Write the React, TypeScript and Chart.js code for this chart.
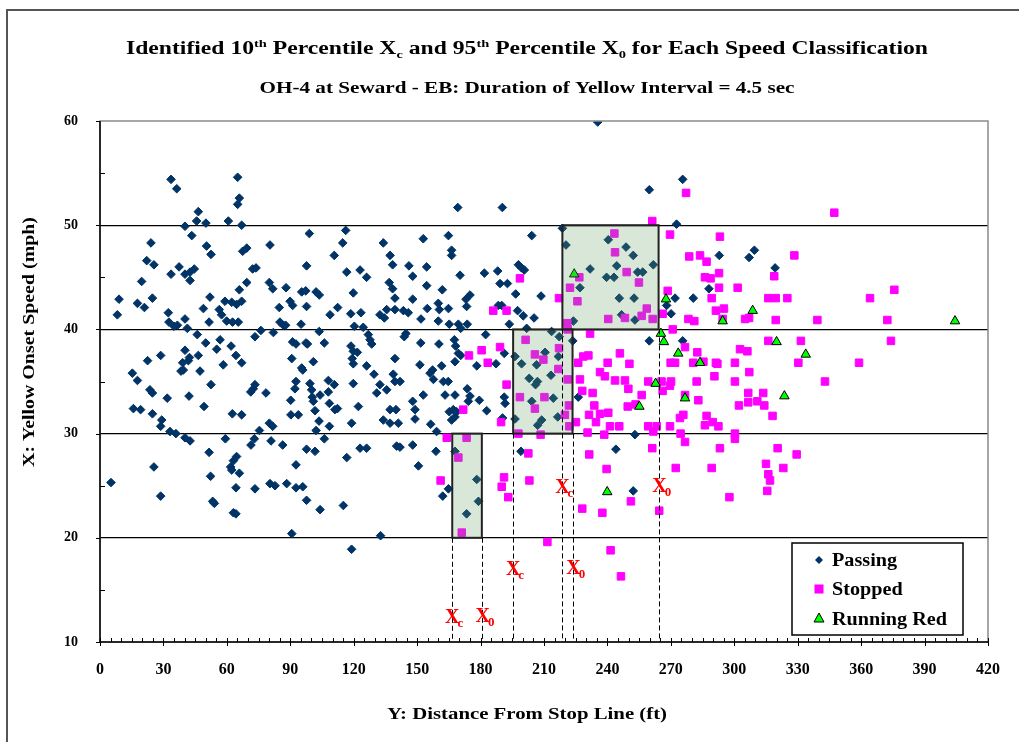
import React, { useEffect, useRef } from 'react';
import { Chart, registerables } from 'chart.js';

Chart.register(...registerables);

const FONT = "'Liberation Serif', 'Times New Roman', serif";

// ---------- data ----------
const xTickValues = [0, 30, 60, 90, 120, 150, 180, 210, 240, 270, 300, 330, 360, 390, 420];
const yTickValues = [10, 20, 30, 40, 50, 60];
const speedGridLines = [20, 30, 40, 50];

const passing: number[][] = [
  [33.6,54.4],[36.3,53.5],[65.1,54.6],[65.9,52.6],[65.1,52.0],[46.5,51.3],[45.7,50.4],[40.2,49.9],[50.1,50.2],[60.7,50.4],[67.0,50.0],[99.0,49.2],[116.2,49.5],[24.1,48.3],[43.4,49.0],[80.4,48.1],[114.8,48.3],[134.0,48.3],[50.4,48.0],[52.5,47.2],[67.5,47.5],[69.4,47.8],[110.8,47.1],[137.2,47.1],[22.1,46.6],[25.5,46.2],[37.4,46.0],[33.6,45.3],[40.2,45.3],[42.6,45.5],[44.6,45.8],[42.6,44.7],[97.7,46.1],[72.2,45.8],[73.8,45.9],[116.7,45.5],[123.0,45.7],[138.4,46.2],[126.1,45.0],[19.7,44.6],[69.4,44.5],[80.1,44.5],[81.7,43.9],[88.0,44.0],[95.4,43.6],[97.3,43.7],[102.2,43.6],[103.7,43.3],[119.8,43.5],[136.8,44.5],[138.4,43.9],[139.5,43.0],[9.0,42.9],[17.7,42.5],[21.0,42.1],[24.8,43.0],[52.0,43.1],[59.1,42.7],[62.3,42.6],[64.6,42.4],[67.0,42.7],[65.9,43.8],[48.9,42.0],[56.4,41.9],[57.5,41.4],[89.9,42.7],[91.1,42.3],[84.8,42.1],[97.7,42.2],[112.4,42.1],[108.8,41.4],[118.6,41.5],[123.4,41.6],[132.4,41.4],[134.5,41.1],[135.6,41.9],[139.5,41.9],[8.2,41.4],[32.3,41.6],[32.6,40.7],[36.6,40.4],[40.2,41.0],[35.0,40.3],[41.3,40.1],[51.6,40.7],[59.9,40.8],[62.7,40.7],[65.4,40.7],[85.1,40.7],[86.7,40.4],[87.8,40.4],[95.1,40.5],[120.3,40.3],[124.5,40.2],[126.9,39.5],[103.7,39.8],[76.1,39.9],[73.3,39.3],[82.0,39.7],[46.0,39.5],[50.0,38.7],[56.8,39.0],[55.2,38.1],[62.0,38.4],[91.1,38.8],[92.7,38.6],[97.4,38.7],[98.1,38.6],[106.1,38.7],[118.7,38.4],[119.8,37.9],[121.7,37.8],[127.7,39.0],[128.5,38.6],[40.2,38.0],[46.5,37.5],[64.3,37.5],[28.7,37.5],[22.5,37.0],[39.1,36.8],[41.8,37.0],[42.3,37.3],[39.4,36.1],[38.3,36.0],[47.3,36.0],[58.3,36.6],[67.0,36.8],[90.7,37.2],[100.9,36.9],[95.4,36.3],[95.9,36.1],[119.3,37.2],[119.8,36.7],[126.1,36.5],[129.6,35.7],[139.5,37.2],[138.7,35.7],[15.3,35.8],[17.7,35.1],[52.5,34.7],[73.3,34.7],[92.7,35.0],[99.3,34.8],[108.0,35.1],[110.8,34.7],[119.8,34.8],[132.4,34.7],[139.5,35.0],
  [23.6,34.2],[24.8,33.9],[31.8,33.4],[42.1,33.6],[71.3,34.0],[72.5,34.3],[78.5,33.9],[90.2,33.2],[92.2,34.3],[100.1,34.2],[100.4,33.5],[100.9,33.1],[104.1,33.7],[108.0,34.0],[108.5,32.9],[111.1,32.3],[112.3,32.4],[101.7,32.2],[103.6,31.2],[102.2,30.3],[108.5,30.7],[122.2,32.6],[130.9,33.9],[135.6,34.2],[137.2,32.3],[140.0,32.3],[15.8,32.4],[19.2,32.3],[24.8,31.9],[29.2,31.3],[28.7,30.7],[33.1,30.2],[35.9,30.0],[40.2,29.6],[42.6,29.3],[49.2,32.6],[62.6,31.9],[67.0,31.8],[75.4,30.3],[80.1,31.0],[81.7,30.7],[90.3,31.8],[93.8,31.8],[119.0,31.0],[134.0,31.3],[137.2,31.0],[141.1,31.0],[59.3,29.5],[71.4,28.9],[73.0,29.5],[80.9,29.3],[86.4,28.9],[106.1,29.5],[97.7,28.5],[101.7,28.3],[51.6,28.2],[116.7,27.7],[123.0,28.6],[126.1,28.6],[140.3,28.8],[25.5,26.8],[5.2,25.3],[28.7,24.0],[52.3,25.9],[54.1,23.3],[53.3,23.5],[61.8,26.8],[62.3,26.5],[63.1,27.4],[64.6,27.8],[65.9,26.2],[64.3,24.8],[63.1,22.4],[64.3,22.3],[73.3,24.7],[80.4,25.2],[82.8,25.0],[88.3,25.2],[92.7,27.0],[92.7,24.8],[95.9,24.9],[97.7,23.6],[104.1,22.7],[115.1,23.1],[90.7,20.4],[132.7,20.2],[119.0,18.9],
  [235.4,59.9],[275.6,54.4],[259.8,53.4],[169.2,51.7],[190.3,51.7],[272.7,50.1],[218.7,49.7],[220.4,48.1],[204.2,49.0],[164.8,49.0],[152.9,48.7],[166.3,47.6],[166.3,47.1],[146.1,46.1],[154.5,46.0],[147.9,45.1],[154.5,44.2],[161.9,43.8],[170.3,45.2],[181.8,45.4],[188.1,45.6],[197.9,46.2],[199.4,45.9],[200.7,45.7],[189.2,44.4],[192.7,44.4],[196.6,43.4],[208.6,43.2],[147.9,42.9],[143.5,41.8],[145.8,41.6],[154.8,42.0],[160.0,42.5],[160.5,41.9],[164.8,42.0],[173.1,42.9],[175.0,43.3],[173.4,42.2],[188.4,42.3],[190.0,42.3],[197.5,41.8],[200.2,41.3],[205.3,41.1],[151.8,41.0],[160.0,40.8],[165.2,40.5],[169.5,40.5],[170.6,40.1],[173.7,40.5],[193.6,40.5],[144.7,39.6],[143.9,39.3],[151.7,38.7],[160.3,38.6],[167.6,39.0],[168.2,38.4],[169.5,37.7],[170.6,37.5],[167.9,36.9],[151.3,36.6],[157.3,36.1],[156.1,35.8],[161.6,36.5],[178.2,36.5],[187.3,36.7],[191.2,37.7],[182.4,39.5],[201.8,40.1],[213.6,39.8],[217.2,39.3],[223.6,38.9],[164.7,35.0],[162.4,35.0],[141.9,35.0],[157.7,35.2],
  [240.4,48.6],[248.8,47.9],[252.2,47.1],[231.8,45.8],[244.4,46.1],[254.3,45.5],[256.7,45.5],[261.7,46.2],[239.6,45.0],[243.1,45.0],[227.0,44.0],[245.6,43.0],[252.6,43.0],[246.7,41.4],[223.9,40.8],[253.0,40.9],[268.0,42.3],[272.0,43.0],[270.1,41.5],[259.8,38.9],[275.6,38.9],
  [210.5,37.8],[196.3,37.4],[199.4,36.7],[206.5,36.6],[213.3,35.6],[203.0,35.3],[206.9,35.0],[216.8,37.4],
  [147.9,33.1],[149.0,32.3],[149.0,31.4],[152.9,33.7],[156.4,30.9],[163.2,33.7],[165.2,32.1],[167.1,32.3],[167.9,31.6],[166.3,31.3],[168.7,32.1],[159.2,30.2],[175.0,33.6],[174.2,33.1],[179.4,33.2],[182.9,32.2],[191.2,33.5],[191.6,32.9],[190.4,31.5],[141.9,28.7],[147.9,28.9],[158.9,28.3],[150.6,26.9],[164.8,24.7],[162.1,24.0],[167.9,28.3],[178.2,25.6],[179.0,23.5],[173.4,22.3],[199.1,28.3],[253.0,29.9],[244.0,28.5],[252.2,24.5],[206.0,34.7],[204.2,33.1],[208.9,31.3],[207.0,30.8],[214.4,33.4],[216.5,31.6],[226.2,33.5],[173.7,34.3],[167.9,33.7],[196.3,31.4],
  [292.9,47.1],[307.0,46.9],[309.5,47.6],[319.3,45.9],[288.0,43.9],[280.6,43.0],
];

const stopped: number[][] = [
  [277.2,53.1],[261.2,50.4],[269.6,49.1],[278.7,47.0],[198.6,44.9],[217.1,43.0],[186.0,41.8],[192.3,41.8],[243.3,49.2],[243.6,47.4],[249.1,45.5],[226.7,45.0],[222.3,44.0],[225.8,42.7],[254.9,44.5],[258.6,42.0],[256.2,41.3],[261.4,41.0],[248.3,41.1],[240.4,41.0],[221.0,40.6],[221.2,40.0],[268.5,43.7],[266.1,41.5],[278.3,41.0],[270.9,40.0],[231.8,39.6],[189.2,38.3],[174.5,37.5],[180.5,38.0],[183.4,36.8],[201.3,39.0],[205.7,37.6],[209.7,37.1],[217.1,38.2],[216.8,36.2],[192.3,34.7],[276.7,38.3],[245.9,37.7],[231.0,37.5],[228.6,37.4],[240.1,36.8],[250.4,36.7],[226.2,36.8],[269.9,36.8],[272.0,36.8],[236.5,35.9],[238.8,35.5],[221.2,35.2],[227.0,35.2],[243.6,35.1],[248.3,35.1],[259.3,35.0],[265.6,35.0],[270.1,35.0],
  [198.6,33.5],[210.2,33.5],[205.7,32.4],[189.7,31.1],[197.9,30.0],[208.4,29.9],[219.9,31.8],[221.8,32.7],[222.0,30.7],[225.1,31.1],[171.8,32.3],[164.0,29.6],[173.4,29.6],[169.5,27.7],[171.1,20.5],[161.1,25.5],[191.1,25.8],[190.0,24.9],[193.1,23.9],[203.1,25.5],[202.6,28.1],[211.6,19.6],[228.1,34.1],[233.0,33.9],[233.8,32.7],[231.3,31.8],[236.5,31.9],[240.4,32.0],[234.6,31.1],[241.2,30.7],[245.6,30.7],[238.5,29.9],[230.6,30.1],[231.4,28.0],[239.6,26.6],[228.1,22.8],[237.6,22.4],[241.5,18.8],[246.4,16.3],[251.1,23.5],[256.2,33.7],[249.6,32.6],[253.3,32.8],[261.2,28.6],[259.3,30.7],[263.3,30.7],[261.7,30.2],[269.6,30.7],[264.5,22.6],[272.3,26.7],[274.6,30.0],[276.7,29.2],[274.3,31.5],[275.9,31.8],[249.9,34.3],[269.6,34.6],[266.1,34.1],[276.7,33.7],
  [347.3,51.2],[293.2,48.9],[283.8,47.1],[286.9,46.5],[328.4,47.1],[286.1,45.0],[288.8,44.9],[292.8,45.4],[292.8,44.0],[301.6,44.0],[318.9,45.1],[289.3,43.0],[316.1,43.0],[319.6,43.0],[325.1,43.0],[364.2,43.0],[375.7,43.8],[291.3,41.8],[295.1,42.0],[281.1,40.8],[294.5,41.0],[305.1,41.0],[307.0,41.1],[319.6,40.9],[339.3,40.9],[372.4,40.9],[316.1,38.9],[331.5,38.9],[374.1,38.9],[282.5,37.8],[302.7,38.1],[306.2,37.9],[280.6,36.8],[285.4,36.9],[291.3,36.8],[292.0,36.7],[300.3,36.8],[307.1,35.9],[290.6,35.5],[330.3,36.8],[359.0,36.8],[282.2,35.0],[300.3,35.0],[342.9,35.0],
  [283.0,33.2],[306.6,33.9],[313.7,33.9],[306.6,33.0],[310.9,33.1],[314.2,32.7],[302.2,32.7],[318.1,31.7],[286.9,31.7],[289.8,31.1],[286.1,30.8],[292.5,30.7],[300.3,30.0],[300.3,29.5],[293.2,28.6],[320.5,28.6],[329.5,28.0],[315.0,27.1],[323.2,26.7],[289.3,26.7],[316.1,26.1],[316.9,25.5],[315.6,24.5],[297.7,23.9],
];

const runningRed: number[][] = [
  [224.3,45.3],[267.7,42.9],[265.3,39.6],[266.7,38.8],[273.5,37.7],[262.8,34.8],[255.1,32.6],[239.9,24.4],[276.7,33.4],[294.5,40.8],[308.7,41.8],[404.4,40.8],[320.0,38.8],[333.8,37.6],[283.8,36.8],[323.7,33.6],
];

// identified percentile distances per speed class
const speedClassLow = [20, 30, 40];
const speedClassHigh = [30, 40, 50];
const xc10th = [166.6, 195.4, 218.7];
const x095th = [180.6, 223.5, 264.2];
const labelSpeed = [11.8, 16.4, 24.3];

const NAVY = '#003366';
const MAGENTA = '#ff00ff';
const GREEN = '#00ff00';

type Seg = { t: string; k?: 'sup' | 'sub' };

function drawRich(ctx: CanvasRenderingContext2D, segs: Seg[], cx: number, y: number, size: number, targetW: number, color: string) {
  const small = Math.round(size * 0.6);
  let w = 0;
  for (const s of segs) {
    ctx.font = `bold ${s.k ? small : size}px ${FONT}`;
    w += ctx.measureText(s.t).width;
  }
  const sx = targetW > 0 ? targetW / w : 1;
  ctx.save();
  ctx.translate(cx - (w * sx) / 2, y);
  ctx.scale(sx, 1);
  ctx.fillStyle = color;
  ctx.textBaseline = 'alphabetic';
  ctx.textAlign = 'left';
  let x = 0;
  for (const s of segs) {
    ctx.font = `bold ${s.k ? small : size}px ${FONT}`;
    const dy = s.k === 'sup' ? -size * 0.4 : s.k === 'sub' ? size * 0.2 : 0;
    ctx.fillText(s.t, x, dy);
    x += ctx.measureText(s.t).width;
  }
  ctx.restore();
}

function drawXLabel(ctx: CanvasRenderingContext2D, px: number, py: number, sub: string) {
  ctx.save();
  ctx.fillStyle = '#ff0000';
  ctx.textBaseline = 'alphabetic';
  ctx.textAlign = 'left';
  ctx.font = `bold 20px ${FONT}`;
  const w = ctx.measureText('X').width;
  ctx.fillText('X', px - w / 2, py);
  ctx.font = `bold 13px ${FONT}`;
  ctx.fillText(sub, px + w / 2 - 2, py + 4);
  ctx.restore();
}

const overlay = {
  id: 'overlay',
  beforeDraw(chart: any) {
    const ctx: CanvasRenderingContext2D = chart.ctx;
    ctx.save();
    ctx.fillStyle = '#ffffff';
    ctx.fillRect(0, 0, chart.width, chart.height);
    ctx.strokeStyle = '#555555';
    ctx.lineWidth = 2;
    ctx.strokeRect(7, 10, chart.width + 20, chart.height + 20);
    ctx.restore();
  },
  afterDatasetsDraw(chart: any) {
    const ctx: CanvasRenderingContext2D = chart.ctx;
    const a = chart.chartArea;
    const xs = chart.scales.x;
    const ys = chart.scales.y;
    ctx.save();
    // shaded boxes
    for (let i = 0; i < xc10th.length; i++) {
      const l = xs.getPixelForValue(xc10th[i]);
      const r = xs.getPixelForValue(x095th[i]);
      const t = ys.getPixelForValue(speedClassHigh[i]);
      const b = ys.getPixelForValue(speedClassLow[i]);
      ctx.fillStyle = 'rgba(100,160,100,0.25)';
      ctx.fillRect(l, t, r - l, b - t);
      ctx.strokeStyle = '#222222';
      ctx.lineWidth = 2;
      ctx.strokeRect(l, t, r - l, b - t);
    }
    // dashed drop lines
    ctx.setLineDash([5, 3]);
    ctx.lineWidth = 1;
    ctx.strokeStyle = '#000000';
    for (let i = 0; i < xc10th.length; i++) {
      const b = ys.getPixelForValue(speedClassLow[i]);
      for (const v of [xc10th[i], x095th[i]]) {
        const px = Math.round(xs.getPixelForValue(v)) + 0.5;
        ctx.beginPath();
        ctx.moveTo(px, b);
        ctx.lineTo(px, a.bottom);
        ctx.stroke();
      }
    }
    ctx.setLineDash([]);
    // red labels
    for (let i = 0; i < xc10th.length; i++) {
      const py = ys.getPixelForValue(labelSpeed[i]);
      drawXLabel(ctx, xs.getPixelForValue(xc10th[i]), py, 'c');
      drawXLabel(ctx, xs.getPixelForValue(x095th[i]) + 1, py - 1, '0');
    }
    // plot border
    ctx.strokeStyle = '#8a8a8a';
    ctx.lineWidth = 1.5;
    ctx.strokeRect(a.left, a.top, a.right - a.left, a.bottom - a.top);
    ctx.strokeStyle = '#000000';
    ctx.lineWidth = 1.5;
    ctx.beginPath();
    ctx.moveTo(a.left, a.top);
    ctx.lineTo(a.left, a.bottom);
    ctx.lineTo(a.right, a.bottom);
    ctx.stroke();
    // tick marks
    ctx.lineWidth = 1;
    ctx.beginPath();
    for (let v = 0; v <= 420; v += 5) {
      const px = Math.round(xs.getPixelForValue(v)) + 0.5;
      if (v % 30 === 0) {
        ctx.moveTo(px, a.bottom + 4);
        ctx.lineTo(px, a.bottom - 4);
      } else {
        ctx.moveTo(px, a.bottom);
        ctx.lineTo(px, a.bottom - 4);
      }
    }
    for (let v = 10; v <= 60; v += 5) {
      const py = Math.round(ys.getPixelForValue(v)) + 0.5;
      if (v % 10 === 0) {
        ctx.moveTo(a.left - 4, py);
        ctx.lineTo(a.left, py);
      } else {
        ctx.moveTo(a.left, py);
        ctx.lineTo(a.left + 5, py);
      }
    }
    ctx.stroke();
    ctx.restore();
  },
  afterDraw(chart: any) {
    const ctx: CanvasRenderingContext2D = chart.ctx;
    ctx.save();
    drawRich(ctx, [
      { t: 'Identified 10' }, { t: 'th', k: 'sup' }, { t: ' Percentile X' }, { t: 'c', k: 'sub' },
      { t: ' and 95' }, { t: 'th', k: 'sup' }, { t: ' Percentile X' }, { t: '0', k: 'sub' },
      { t: ' for Each Speed Classification' },
    ], 527, 54, 18, 802, '#000');
    drawRich(ctx, [{ t: 'OH-4 at Seward - EB: Duration of Yellow Interval = 4.5 sec' }], 527, 93, 16, 535, '#000');
    drawRich(ctx, [{ t: 'Y: Distance From Stop Line (ft)' }], 527, 719, 17, 280, '#000');
    // y title rotated
    ctx.save();
    ctx.translate(34, 342);
    ctx.rotate(-Math.PI / 2);
    drawRich(ctx, [{ t: 'X: Yellow Onset Speed (mph)' }], 0, 0, 17, 250, '#000');
    ctx.restore();

    // legend
    ctx.fillStyle = '#ffffff';
    ctx.fillRect(792, 543, 171, 92);
    ctx.strokeStyle = '#000000';
    ctx.lineWidth = 1.5;
    ctx.strokeRect(792, 543, 171, 92);
    const mx = 819;
    // diamond
    ctx.fillStyle = NAVY;
    ctx.beginPath();
    ctx.moveTo(mx - 4, 560); ctx.lineTo(mx, 556); ctx.lineTo(mx + 4, 560); ctx.lineTo(mx, 564);
    ctx.closePath();
    ctx.fill();
    // square
    ctx.fillStyle = MAGENTA;
    ctx.fillRect(mx - 4.5, 589 - 4.5, 9, 9);
    // triangle
    ctx.fillStyle = GREEN;
    ctx.strokeStyle = '#000000';
    ctx.lineWidth = 1;
    ctx.beginPath();
    ctx.moveTo(mx, 613); ctx.lineTo(mx + 5, 622); ctx.lineTo(mx - 5, 622);
    ctx.closePath();
    ctx.fill();
    ctx.stroke();
    ctx.fillStyle = '#000000';
    ctx.font = `bold 18px ${FONT}`;
    const rw = ctx.measureText('Running Red').width;
    const sx = 115 / rw;
    const labels = ['Passing', 'Stopped', 'Running Red'];
    const ys = [566, 595, 625];
    for (let i = 0; i < 3; i++) {
      ctx.save();
      ctx.translate(832, ys[i]);
      ctx.scale(sx, 1);
      ctx.textAlign = 'left';
      ctx.textBaseline = 'alphabetic';
      ctx.fillText(labels[i], 0, 0);
      ctx.restore();
    }
    ctx.restore();
  },
};

export default function App() {
  const ref = useRef<HTMLCanvasElement>(null);
  useEffect(() => {
    document.body.style.margin = '0';
    const toPts = (arr: number[][]) => arr.map((p) => ({ x: p[0], y: p[1] }));
    const chart = new Chart(ref.current as HTMLCanvasElement, {
      type: 'scatter',
      data: {
        datasets: [
          {
            label: 'Running Red',
            data: toPts(runningRed),
            pointStyle: 'triangle',
            radius: 5.5,
            backgroundColor: GREEN,
            borderColor: '#000000',
            borderWidth: 1,
            order: 0,
          },
          {
            label: 'Stopped',
            data: toPts(stopped),
            pointStyle: 'rect',
            radius: 5.3,
            backgroundColor: MAGENTA,
            borderColor: MAGENTA,
            borderWidth: 1,
            order: 1,
          },
          {
            label: 'Passing',
            data: toPts(passing),
            pointStyle: 'rectRot',
            radius: 4.3,
            backgroundColor: NAVY,
            borderColor: NAVY,
            borderWidth: 1,
            order: 2,
          },
        ] as any,
      },
      options: {
        animation: false,
        responsive: false,
        devicePixelRatio: 1,
        events: [],
        layout: { padding: { top: 121, right: 31, left: 0, bottom: 0 } },
        plugins: {
          legend: { display: false },
          tooltip: { enabled: false },
          title: { display: false },
        },
        scales: {
          x: {
            type: 'linear',
            min: 0,
            max: 420,
            afterFit: (s: any) => { s.height = 100; },
            afterBuildTicks: (s: any) => { s.ticks = xTickValues.map((v) => ({ value: v })); },
            ticks: {
              color: '#000',
              font: { family: FONT, size: 16, weight: 'bold' },
              padding: 18,
              maxRotation: 0,
              autoSkip: false,
            },
            grid: { display: false, drawTicks: false },
            border: { display: false },
          },
          y: {
            type: 'linear',
            min: 10,
            max: 60,
            afterFit: (s: any) => { s.width = 100; },
            afterBuildTicks: (s: any) => { s.ticks = yTickValues.map((v) => ({ value: v })); },
            ticks: {
              color: '#000',
              font: { family: FONT, size: 14, weight: 'bold' },
              padding: 22,
            },
            grid: {
              drawTicks: false,
              lineWidth: 1.3,
              color: (c: any) => (c.tick && speedGridLines.includes(c.tick.value) ? '#000000' : 'rgba(0,0,0,0)'),
            },
            border: { display: false },
          },
        },
      } as any,
      plugins: [overlay],
    });
    return () => chart.destroy();
  }, []);
  return (
    <div style={{ width: 1019, height: 742 }}>
      <canvas ref={ref} width={1019} height={742} style={{ display: 'block' }} />
    </div>
  );
}
